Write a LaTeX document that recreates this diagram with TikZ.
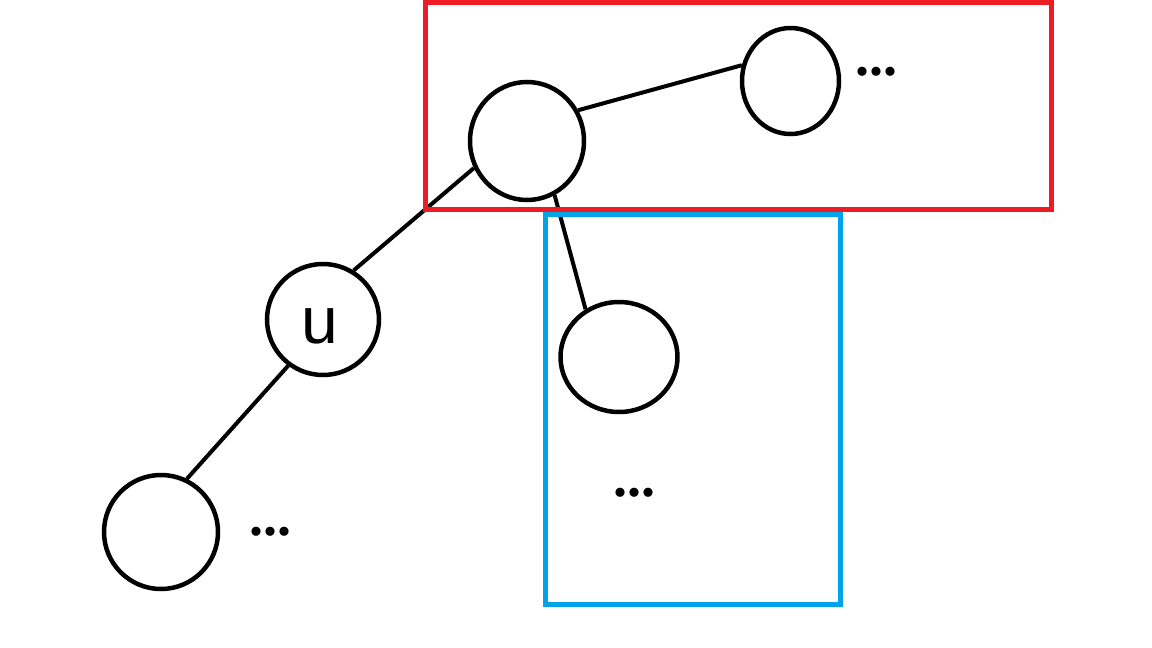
\documentclass[tikz,border=0pt]{standalone}
\usepackage{fontspec}
\setmainfont{Liberation Sans}
\newfontfamily\dotfont{Liberation Serif}
\usetikzlibrary{shapes.geometric}
\definecolor{boxred}{HTML}{ED1C24}
\definecolor{boxblue}{HTML}{00A2E8}
\begin{document}
\begin{tikzpicture}[x=1pt,y=-1pt,
  vertex/.style={draw=black, line width=4.5pt, ellipse, inner sep=0pt,
    minimum width=#1},
  edge/.style={draw=black, line width=4pt},
  frame/.style={line width=5pt},
  dots/.style={inner sep=0pt, font=\dotfont\fontsize{56}{56}\selectfont\bfseries},
  lbl/.style={inner sep=0pt, font=\fontsize{66}{66}\selectfont}]
\useasboundingbox[fill=white] (0,0) rectangle (1152,648);

% tree vertices
\node[vertex=114pt, minimum height=118pt] (root)  at (527,141) {};
\node[vertex=97pt,  minimum height=106pt] (right) at (790.5,81) {};
\node[vertex=112pt, minimum height=111pt] (u)     at (323,319.5) {};
\node[vertex=117pt, minimum height=110pt] (mid)   at (619,357) {};
\node[vertex=114pt, minimum height=114pt] (leaf)  at (161,532) {};

\node[lbl] (ulabel) at (320,326) {u};

% continuation marks
\node[dots] (dotsR) at (876,72) {...};
\node[dots] (dotsM) at (634,493) {...};
\node[dots] (dotsL) at (270,532) {...};

% tree edges
\draw[edge] (root.31)  -- (right.162);
\draw[edge] (root.207) -- (u.58);
\draw[edge] (root.297) -- (mid.125);
\draw[edge] (u.233)    -- (leaf.64);

% highlighted regions
\coordinate (r1) at (425,2);
\coordinate (r2) at (1051,209.5);
\coordinate (b1) at (545.5,214.5);
\coordinate (b2) at (840.5,604.5);
\draw[frame, boxred]  (r1) rectangle (r2);
\draw[frame, boxblue] (b1) rectangle (b2);
\end{tikzpicture}
\end{document}
